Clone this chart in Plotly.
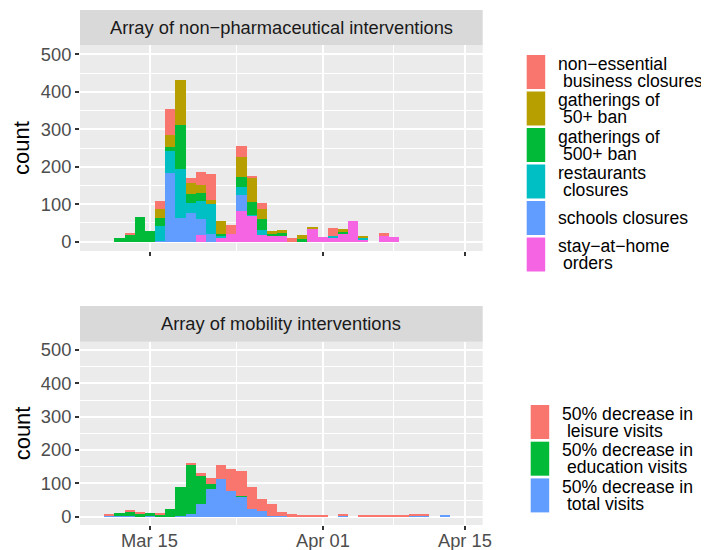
import plotly.graph_objects as go

# the page body adds an 8px margin, so the figure sits 8px right/down in the window;
# pixel positions below are given in window coordinates and shifted back
PAGE_OFF = 8
W, H = 709, 550

# ---- data: top panel (non-pharmaceutical interventions), daily counts ----
npi_dates = [
    "2020-03-12", "2020-03-13", "2020-03-14", "2020-03-15", "2020-03-16", "2020-03-17", "2020-03-18",
    "2020-03-19", "2020-03-20", "2020-03-21", "2020-03-22", "2020-03-23", "2020-03-24", "2020-03-25",
    "2020-03-26", "2020-03-27", "2020-03-28", "2020-03-29", "2020-03-30", "2020-03-31", "2020-04-01",
    "2020-04-02", "2020-04-03", "2020-04-04", "2020-04-05", "2020-04-06", "2020-04-07", "2020-04-08",
]
stay_at_home = [0, 0, 0, 0, 0, 0, 0, 0, 18, 0, 11, 21, 82, 69, 18, 15, 15, 0, 0, 34, 13, 10, 23, 55, 7, 0, 15, 13]
schools = [0, 0, 0, 0, 2, 182, 63, 77, 43, 21, 0, 0, 43, 0, 0, 0, 0, 0, 0, 0, 0, 0, 0, 0, 0, 0, 0, 0]
restaurants = [0, 0, 0, 0, 41, 61, 131, 27, 48, 80, 4, 0, 21, 3, 13, 0, 0, 0, 0, 0, 0, 5, 0, 0, 4, 0, 0, 0]
gatherings_500 = [11, 18, 66, 29, 21, 9, 118, 24, 21, 0, 6, 0, 27, 35, 30, 6, 8, 0, 7, 0, 0, 0, 5, 0, 0, 0, 0, 0]
gatherings_50 = [0, 0, 0, 0, 23, 32, 120, 28, 20, 11, 34, 0, 54, 64, 27, 7, 8, 0, 11, 3, 0, 0, 5, 0, 2, 0, 0, 0]
non_essential = [0, 3, 0, 0, 22, 69, 0, 15, 37, 69, 0, 23, 29, 5, 16, 0, 0, 11, 0, 0, 0, 22, 0, 0, 0, 0, 8, 0]

# ---- data: bottom panel (mobility interventions) ----
mob_dates = [
    "2020-03-11", "2020-03-12", "2020-03-13", "2020-03-14", "2020-03-15", "2020-03-16", "2020-03-17",
    "2020-03-18", "2020-03-19", "2020-03-20", "2020-03-21", "2020-03-22", "2020-03-23", "2020-03-24",
    "2020-03-25", "2020-03-26", "2020-03-27", "2020-03-28", "2020-03-29", "2020-03-30", "2020-03-31",
    "2020-04-01", "2020-04-02", "2020-04-03", "2020-04-04", "2020-04-05", "2020-04-06", "2020-04-07",
    "2020-04-08", "2020-04-09", "2020-04-10", "2020-04-11", "2020-04-12", "2020-04-13",
]
total_visits = [3, 3, 3, 0, 2, 0, 0, 3, 9, 39, 84, 114, 76, 60, 24, 16, 3, 3, 0, 0, 0, 0, 0, 3, 0, 0, 0, 0, 0, 0, 3, 3, 0, 3]
education_visits = [0, 9, 12, 9, 10, 6, 24, 87, 147, 84, 15, 0, 0, 3, 0, 0, 0, 0, 0, 0, 0, 0, 0, 0, 0, 0, 0, 0, 0, 0, 0, 0, 0, 0]
leisure_visits = [3, 0, 3, 3, 0, 3, 0, 0, 4, 9, 18, 42, 68, 75, 66, 38, 36, 12, 9, 6, 6, 6, 0, 3, 0, 6, 3, 6, 3, 3, 3, 3, 0, 0]

x_tick_vals = ["2020-03-15", "2020-04-01", "2020-04-15"]
x_tick_text = ["Mar 15", "Apr 01", "Apr 15"]

npi_series = [  # bottom of stack first
    ("stay\u2212at\u2212home\n orders", stay_at_home, "#F564E3"),
    ("schools closures", schools, "#619CFF"),
    ("restaurants\n closures", restaurants, "#00BFC4"),
    ("gatherings of\n 500+ ban", gatherings_500, "#00BA38"),
    ("gatherings of\n 50+ ban", gatherings_50, "#B79F00"),
    ("non\u2212essential\n business closures", non_essential, "#F8766D"),
]
mob_series = [
    ("50% decrease in\n total visits", total_visits, "#619CFF"),
    ("50% decrease in\n education visits", education_visits, "#00BA38"),
    ("50% decrease in\n leisure visits", leisure_visits, "#F8766D"),
]

FONT = "Liberation Sans, Arial, sans-serif"
FS = 18.3
FS_LEG = 17.6
DAY = 86400000


def px_x(x):
    return (x - PAGE_OFF) / W


def px_y(y):
    return 1 - (y - PAGE_OFF) / H


fig = go.Figure()

for name, vals, col in npi_series:
    fig.add_trace(go.Bar(x=npi_dates, y=vals, width=DAY, name=name, marker=dict(color=col, line=dict(width=0)),
                         xaxis="x", yaxis="y", showlegend=False))
for name, vals, col in mob_series:
    fig.add_trace(go.Bar(x=mob_dates, y=vals, width=DAY, name=name, marker=dict(color=col, line=dict(width=0)),
                         xaxis="x2", yaxis="y2", showlegend=False))

xleft, xright = 80, 482.7
xrange_ = ["2020-03-08 02:40", "2020-04-16 18:00"]
xminor = ["2020-03-23 12:00", "2020-04-08"]

common_x = dict(range=xrange_, type="date", tickvals=x_tick_vals, ticktext=x_tick_text, automargin=False,
                showgrid=True, gridcolor="white", gridwidth=2, zeroline=False, showline=False,
                ticks="outside", ticklen=4, tickwidth=1.5, tickcolor="#333333",
                tickfont=dict(family=FONT, size=FS, color="#4D4D4D"),
                minor=dict(tickmode="array", tickvals=xminor, showgrid=True, gridcolor="white", gridwidth=1))
common_y = dict(range=[-25, 525], tickvals=[0, 100, 200, 300, 400, 500], automargin=False,
                showgrid=True, gridcolor="white", gridwidth=2, zeroline=False, showline=False,
                ticks="outside", ticklen=4, tickwidth=1.5, tickcolor="#333333",
                tickfont=dict(family=FONT, size=FS, color="#4D4D4D"),
                minor=dict(tickmode="array", tickvals=[50, 150, 250, 350, 450], showgrid=True,
                           gridcolor="white", gridwidth=1))

fig.update_layout(
    width=W, height=H,
    margin=dict(l=0, r=0, t=0, b=0),
    paper_bgcolor="white",
    plot_bgcolor="#EBEBEB",
    barmode="stack",
    xaxis=dict(domain=[px_x(xleft), px_x(xright)], anchor="y", showticklabels=False, **common_x),
    yaxis=dict(domain=[px_y(251), px_y(45)], anchor="x", **common_y),
    xaxis2=dict(domain=[px_x(xleft), px_x(xright)], anchor="y2", showticklabels=False, **common_x),
    yaxis2=dict(domain=[px_y(525), px_y(341.7)], anchor="x2", **common_y),
)

shapes = []
annotations = []

# bottom x tick labels, placed at the axis positions
for v, t in zip(x_tick_vals, x_tick_text):
    annotations.append(dict(x=v, y=px_y(540), xref="x2", yref="paper", text=t, showarrow=False,
                            font=dict(family=FONT, size=FS, color="#4D4D4D"), xanchor="center", yanchor="middle"))

# facet strips
for y0, y1, title in [(10, 45, "Array of non\u2212pharmaceutical interventions"),
                      (306, 341.7, "Array of mobility interventions")]:
    shapes.append(dict(type="rect", xref="paper", yref="paper", x0=px_x(xleft), x1=px_x(xright),
                       y0=px_y(y1), y1=px_y(y0), fillcolor="#D9D9D9", line=dict(width=0), layer="below"))
    annotations.append(dict(x=px_x((xleft + xright) / 2), y=px_y((y0 + y1) / 2), xref="paper", yref="paper",
                            text=title, showarrow=False, font=dict(family=FONT, size=FS, color="#1A1A1A"),
                            xanchor="center", yanchor="middle"))

# axis titles
for yc in [(45 + 251) / 2, (341.7 + 525) / 2]:
    annotations.append(dict(x=px_x(22), y=px_y(yc), xref="paper", yref="paper", text="count", textangle=-90,
                            showarrow=False, font=dict(family=FONT, size=22, color="black"),
                            xanchor="center", yanchor="middle"))


def add_legend(series, kx, ky0, step, tx):
    for i, (name, _, col) in enumerate(reversed(series)):
        top = ky0 + i * step
        shapes.append(dict(type="rect", xref="paper", yref="paper", x0=px_x(kx), x1=px_x(kx + 18.5),
                           y0=px_y(top + 34), y1=px_y(top), fillcolor=col, line=dict(width=0)))
        lines = name.split("\n")
        c = top + 17
        offs = [0] if len(lines) == 1 else [-8.5, 8.5]
        for line, o in zip(lines, offs):
            annotations.append(dict(x=px_x(tx), y=px_y(c + o), xref="paper", yref="paper",
                                    text=line.replace(" ", "\u00a0", 1) if line.startswith(" ") else line,
                                    showarrow=False, font=dict(family=FONT, size=FS_LEG, color="black"),
                                    xanchor="left", yanchor="middle"))


add_legend(npi_series, 526.7, 55, 36.5, 556)
add_legend(mob_series, 530.7, 405, 36.7, 560)

fig.update_layout(shapes=shapes, annotations=annotations)

fig.write_html("out.html")
